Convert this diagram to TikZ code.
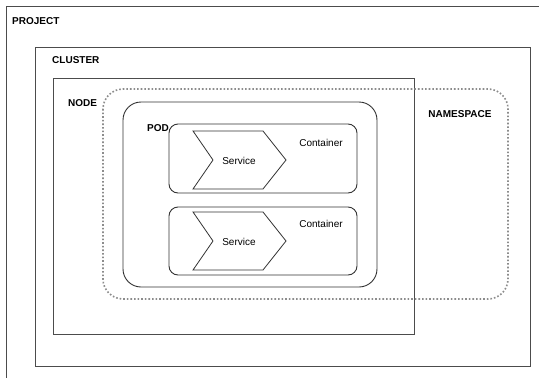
\documentclass[tikz,border=0pt]{standalone}
\usepackage{fontspec}
\setmainfont{Liberation Sans}
\begin{document}
\begin{tikzpicture}[x=1pt,y=-1pt,
  box/.style={draw=black!70,line width=0.9pt},
  rbox/.style={draw=black!80,line width=0.9pt,rounded corners=#1},
  lbl/.style={font=\fontsize{10}{11}\selectfont\bfseries,inner sep=0pt,anchor=west},
  txt/.style={font=\fontsize{10}{11}\selectfont,inner sep=0pt},
  chev/.style={draw=black!80,line width=0.8pt,line join=miter}]
\useasboundingbox (0,0) rectangle (539,378);
\clip (0,0) rectangle (539,378);
\fill[white] (0,0) rectangle (539,378);
% project
\draw[box] (6,6) rectangle (560,400);
\node[lbl] (project) at (12,21) {PROJECT};
% cluster
\draw[box] (35,47) rectangle (530,366);
\node[lbl] (cluster) at (52,60) {CLUSTER};
% node
\draw[box] (53,78) rectangle (414,334);
\node[lbl] (nodelbl) at (68,103) {NODE};
% namespace
\draw[draw=black!45,line width=1.6pt,dotted,rounded corners=20] (103,89) rectangle (508,299);
\node[lbl,anchor=center] (ns) at (460,114) {NAMESPACE};
% pod
\draw[rbox=18] (123,102) rectangle (377,287);
\node[lbl] (pod) at (147,128) {POD};
% containers
\draw[rbox=9] (169,124) rectangle (357,193);
\draw[rbox=9] (169,207) rectangle (357,275);
\node[txt] (c1) at (321,143) {Container};
\node[txt] (c2) at (321,224) {Container};
% services
\draw[chev] (193,131) -- (263,131) -- (286,160) -- (263,189) -- (193,189) -- (213,160) -- cycle;
\node[txt] (s1) at (239,161) {Service};
\draw[chev] (193,212) -- (263,212) -- (286,241) -- (263,270) -- (193,270) -- (213,241) -- cycle;
\node[txt] (s2) at (239,242) {Service};
\end{tikzpicture}
\end{document}
